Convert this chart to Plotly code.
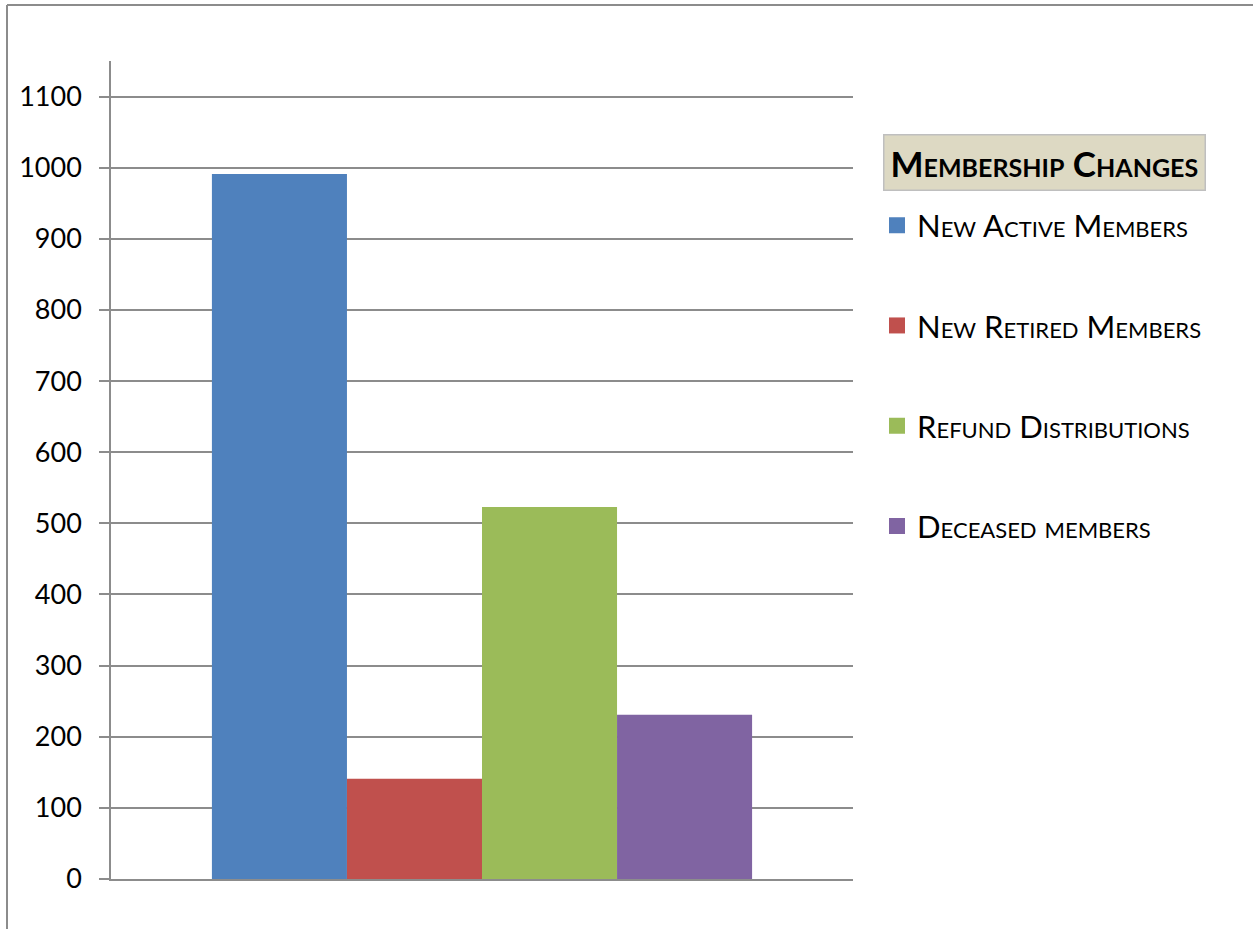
import plotly.graph_objects as go

category = [" "]
series_names = ["New Active Members", "New Retired Members", "Refund Distributions", "Deceased members"]
values = [991, 141, 523, 231]
colors = ["#4F81BD", "#C0504D", "#9BBB59", "#8064A2"]
y_ticks = list(range(0, 1200, 100))
legend_title = "Membership Changes"

FONT = "Lato"
GRID = "#8C8C8C"

fig = go.Figure()
for name, v, c in zip(series_names, values, colors):
    fig.add_trace(go.Bar(x=category, y=[v], name=name, marker=dict(color=c, line=dict(width=0)),
                         showlegend=False))
# legend entries (square swatches)
for name, c in zip(series_names, colors):
    fig.add_trace(go.Scatter(x=[None], y=[None], mode="markers", name=name, legendgroup=name,
                             marker=dict(symbol="square", size=18, color=c, line=dict(width=0))))

L, R, T, B = 111, 400, 61, 50
W, H = 1253, 929
pw, ph = W - L - R, H - T - B

def px(x):
    return (x - L) / pw

def py(y):
    return (H - B - y) / ph

fig.update_layout(
    width=W, height=H,
    margin=dict(l=L, r=R, t=T, b=B),
    paper_bgcolor="white", plot_bgcolor="white",
    barmode="group", bargap=0.272, bargroupgap=0,
    font=dict(family=FONT, color="black"),
    showlegend=True,
    legend=dict(x=px(877), y=py(198.5), xanchor="left", yanchor="top",
                font=dict(family=FONT, size=31, variant="small-caps"),
                tracegroupgap=57, bgcolor="rgba(0,0,0,0)"),
    xaxis=dict(showticklabels=False, showgrid=False, zeroline=False, showline=True,
               linecolor=GRID, linewidth=1.5, ticks=""),
    yaxis=dict(range=[0, 1150], tickvals=y_ticks, showgrid=True, gridcolor=GRID, gridwidth=1.5,
               zeroline=False, showline=True, linecolor=GRID, linewidth=1.5,
               ticks="outside", ticklen=10, tickcolor=GRID, tickwidth=1.5,
               tickfont=dict(family=FONT, size=27), ticklabelstandoff=12),
    annotations=[dict(text="<b>" + legend_title + "</b>", xref="paper", yref="paper",
                      x=px(1044.5), y=py(163), xanchor="center", yanchor="middle", showarrow=False,
                      font=dict(family=FONT, size=35, variant="small-caps", color="black"),
                      bgcolor="#DDD9C3", bordercolor="#BFBFBF", borderwidth=1.5, borderpad=6)],
    shapes=[
        dict(type="line", xref="paper", yref="paper", x0=px(7), x1=px(1253), y0=py(5), y1=py(5),
             line=dict(color="#8C8C8C", width=2)),
        dict(type="line", xref="paper", yref="paper", x0=px(7), x1=px(7), y0=py(5), y1=py(929),
             line=dict(color="#8C8C8C", width=2)),
    ],
)

fig.write_html("out.html")
